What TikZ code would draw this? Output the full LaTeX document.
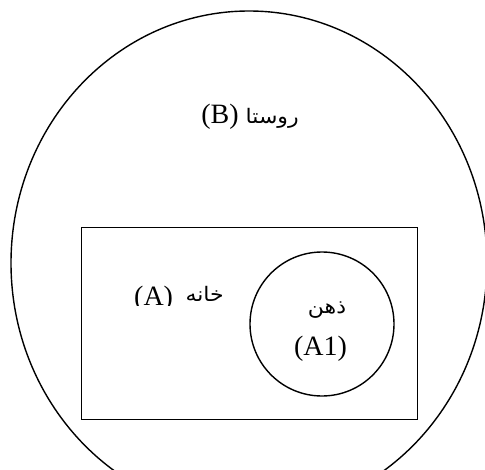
\documentclass[tikz,border=0pt]{standalone}
\usepackage{fontspec}
\setmainfont{Liberation Serif}
\newfontfamily\arabicfont[Script=Arabic,FakeStretch=1.1]{DejaVu Sans}
\TeXXeTstate=1
\usetikzlibrary{shapes.geometric}
\newcommand{\artext}[1]{{\arabicfont\fontsize{20}{24}\selectfont\beginR #1\endR}}
\tikzset{
  outline/.style={draw=black, line width=1.4pt, inner sep=0pt},
  lbl/.style={font=\fontsize{28}{32}\selectfont, inner sep=0pt, anchor=base}
}
\begin{document}
\begin{tikzpicture}[x=1pt,y=-1pt]
\useasboundingbox (0,0) rectangle (485,469);
\clip (0,0) rectangle (485,469);
\node[outline, ellipse, minimum width=476pt, minimum height=504pt] (village) at (249,263) {};
\node[outline, rectangle, minimum width=336pt, minimum height=191.6pt] (house) at (249.7,323.5) {};
\node[outline, circle, minimum size=144pt] (mind) at (322,324) {};
\node[lbl] (tB) at (250,123.5) {(B) \artext{روستا}};
\begin{scope}
\clip (100,270) rectangle (240,305);
\node[lbl, anchor=base west] (tA) at (134,305) {(A)};
\end{scope}
\node[lbl, anchor=base east] (tAar) at (224,301) {\artext{خانه}};
\node[lbl] (tM) at (327,313) {\artext{ذهن}};
\node[lbl] (tA1) at (320.5,355) {(A1)};
\end{tikzpicture}
\end{document}
